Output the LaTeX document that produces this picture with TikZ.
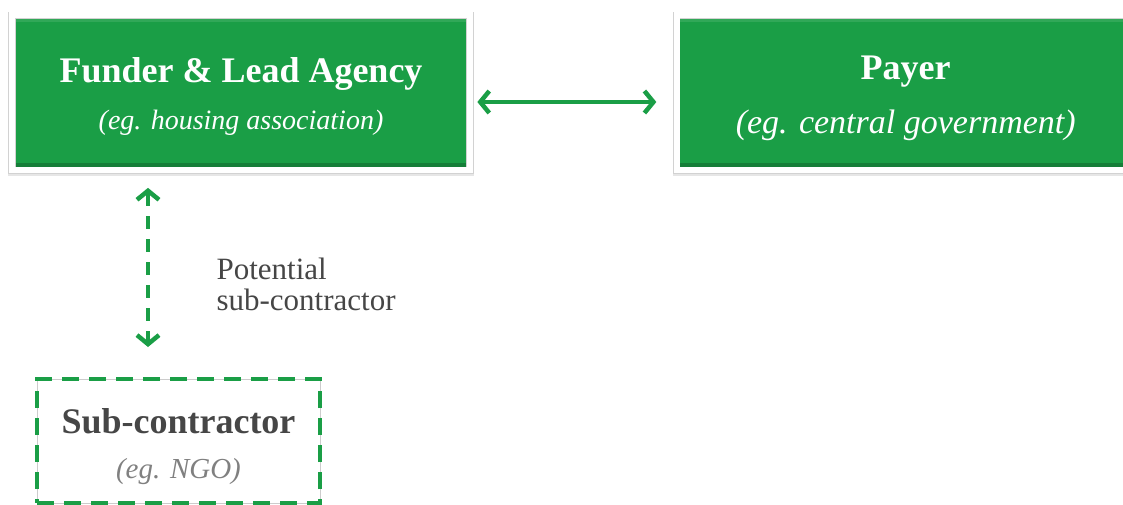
\documentclass[tikz,border=0pt]{standalone}
\usepackage{fontspec}
\setmainfont{Liberation Serif}
\usetikzlibrary{arrows.meta,shadows,positioning}
\definecolor{leadgreen}{RGB}{26,158,70}
\definecolor{labelgray}{RGB}{70,70,70}
\newcommand{\boxtitle}{\fontsize{36}{42}\selectfont\bfseries}
\newcommand{\boxsub}{\fontsize{28}{34}\selectfont\itshape}
\tikzset{
	greenbox/.style={fill=leadgreen,draw=gray!35,double=white,double distance=6pt,line width=0.7pt,minimum width=458pt,minimum height=155pt,
		inner sep=0pt,text=white,align=center,
		drop shadow={shadow xshift=0pt,shadow yshift=-2pt,opacity=0.2,fill=gray,draw=gray,line width=8pt},
		path picture={\fill[leadgreen!80!black] ([yshift=7pt]path picture bounding box.south west) rectangle (path picture bounding box.south east);
			\fill[leadgreen!90!white] (path picture bounding box.north west) rectangle ([yshift=-7pt]path picture bounding box.north east);}},
	subbox/.style={draw=leadgreen,line width=4pt,dash pattern=on 17pt off 10pt,minimum width=283pt,minimum height=124pt,
		inner sep=0pt,align=center,preaction={draw=gray!40,line width=0.8pt,solid}},
	linkarrow/.style={draw=leadgreen,line width=4.5pt,{Straight Barb[length=9pt,width=22pt]}-{Straight Barb[length=9pt,width=22pt]}},
}
\begin{document}
\begin{tikzpicture}[x=1pt,y=-1pt]
	\path[use as bounding box,clip] (0,0) rectangle (1123,505);
	\node[greenbox] (funder) at (241,93) {{\boxtitle\rule{0pt}{32pt}Funder \& Lead Agency}\\[18pt]{\boxsub (eg. housing association)}};
	\node[greenbox,right=206pt of funder] (payer) {{\boxtitle\rule{0pt}{34pt}Payer}\\[21pt]{\boxsub\fontsize{34}{40}\selectfont (eg. central government)}};
	\node[subbox] (sub) at (178.5,441) {{\boxtitle\color{labelgray}\rule{0pt}{36pt}Sub-contractor}\\[24pt]{\boxsub\fontsize{29}{34}\selectfont\color{gray}(eg. NGO)}};
	\node[anchor=north west,align=left,text=labelgray,font=\fontsize{31}{31}\selectfont] (potential) at (213,254) {Potential\\sub-contractor};
	\coordinate (subtap) at ([xshift=-93pt]funder.south);
	\draw[linkarrow,shorten <=7pt,shorten >=20pt] ([yshift=-9pt]funder.east) -- ([yshift=-9pt]payer.west);
	\draw[linkarrow,dash pattern=on 13pt off 10pt,shorten <=17pt,shorten >=30pt] (subtap) -- (subtap |- sub.north);
\end{tikzpicture}
\end{document}
